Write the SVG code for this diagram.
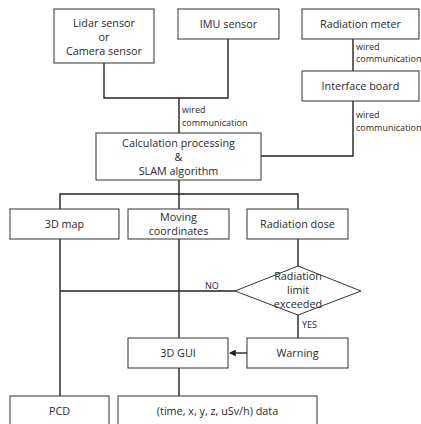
<svg xmlns="http://www.w3.org/2000/svg" width="421" height="424" viewBox="0 0 421 424">
<defs>
<style>
.box{fill:#fff;stroke:#333;stroke-width:1}
.ln{fill:none;stroke:#222;stroke-width:1.4}
text{font-family:"Open Sans","Noto Sans",sans-serif;font-size:10.8px;fill:#2a2a2a;text-anchor:middle}
.sm{font-size:9px;text-anchor:start}
</style>
<marker id="ah" viewBox="0 0 6 6" refX="5" refY="3" markerWidth="5" markerHeight="5" orient="auto"><path d="M0,0 L6,3 L0,6 z" fill="#222"/></marker>
</defs>
<rect width="421" height="424" fill="#fff"/>
<g id="connectors">
<path class="ln" d="M104,63 V98 H228 V39"/>
<path class="ln" d="M179,98 V133"/>
<path class="ln" d="M353,39 V71"/>
<path class="ln" d="M353,101 V156 H261"/>
<path class="ln" d="M179,180 V194"/>
<path class="ln" d="M60,209 V194 H298 V209"/>
<path class="ln" d="M179,194 V209"/>
<path class="ln" d="M298,239 V266"/>
<path class="ln" d="M298,315 V338"/>
<path class="ln" d="M235,291 H60"/>
<path class="ln" d="M60,239 V396"/>
<path class="ln" d="M179,239 V338"/>
<path class="ln" d="M179,368 V396"/>
<path class="ln" d="M247,353 H230" marker-end="url(#ah)"/>
<text class="sm"><tspan x="182" y="113">wired</tspan><tspan x="182" y="126">communication</tspan></text>
<text class="sm"><tspan x="356" y="50">wired</tspan><tspan x="356" y="62">communication</tspan></text>
<text class="sm"><tspan x="356" y="118">wired</tspan><tspan x="356" y="131">communication</tspan></text>
<text class="sm" x="205" y="289">NO</text>
<text class="sm" x="302" y="328">YES</text>
</g>
<g id="lidar"><rect class="box" x="54" y="9" width="100" height="54"/><text><tspan x="104" y="27">Lidar sensor</tspan><tspan x="104" y="41">or</tspan><tspan x="104" y="55">Camera sensor</tspan></text></g>
<g id="imu"><rect class="box" x="178" y="9" width="101" height="30"/><text x="228.5" y="28">IMU sensor</text></g>
<g id="radmeter"><rect class="box" x="302" y="9" width="117" height="30"/><text x="360.5" y="28">Radiation meter</text></g>
<g id="interface"><rect class="box" x="302" y="71" width="117" height="30"/><text x="360.5" y="90">Interface board</text></g>
<g id="calc"><rect class="box" x="96" y="133" width="165" height="47"/><text><tspan x="178.5" y="147">Calculation processing</tspan><tspan x="178.5" y="161">&amp;</tspan><tspan x="178.5" y="175">SLAM algorithm</tspan></text></g>
<g id="map3d"><rect class="box" x="10" y="209" width="109" height="30"/><text x="64.5" y="228">3D map</text></g>
<g id="moving"><rect class="box" x="128" y="209" width="101" height="30"/><text><tspan x="178.5" y="221">Moving</tspan><tspan x="178.5" y="235">coordinates</tspan></text></g>
<g id="dose"><rect class="box" x="247" y="209" width="101" height="30"/><text x="297.5" y="228">Radiation dose</text></g>
<g id="limit"><polygon class="box" points="298,266 361,291 298,315 235,291"/><text><tspan x="298" y="280">Radiation</tspan><tspan x="298" y="294">limit</tspan><tspan x="298" y="308">exceeded</tspan></text></g>
<g id="warning"><rect class="box" x="247" y="338" width="101" height="30"/><text x="297.5" y="357">Warning</text></g>
<g id="gui"><rect class="box" x="128" y="338" width="100" height="30"/><text x="178" y="357">3D GUI</text></g>
<g id="pcd"><rect class="box" x="10" y="396" width="99" height="40"/><text x="59.5" y="415">PCD</text></g>
<g id="data"><rect class="box" x="118" y="396" width="199" height="40"/><text x="217.5" y="415">(time, x, y, z, uSv/h) data</text></g>
</svg>
